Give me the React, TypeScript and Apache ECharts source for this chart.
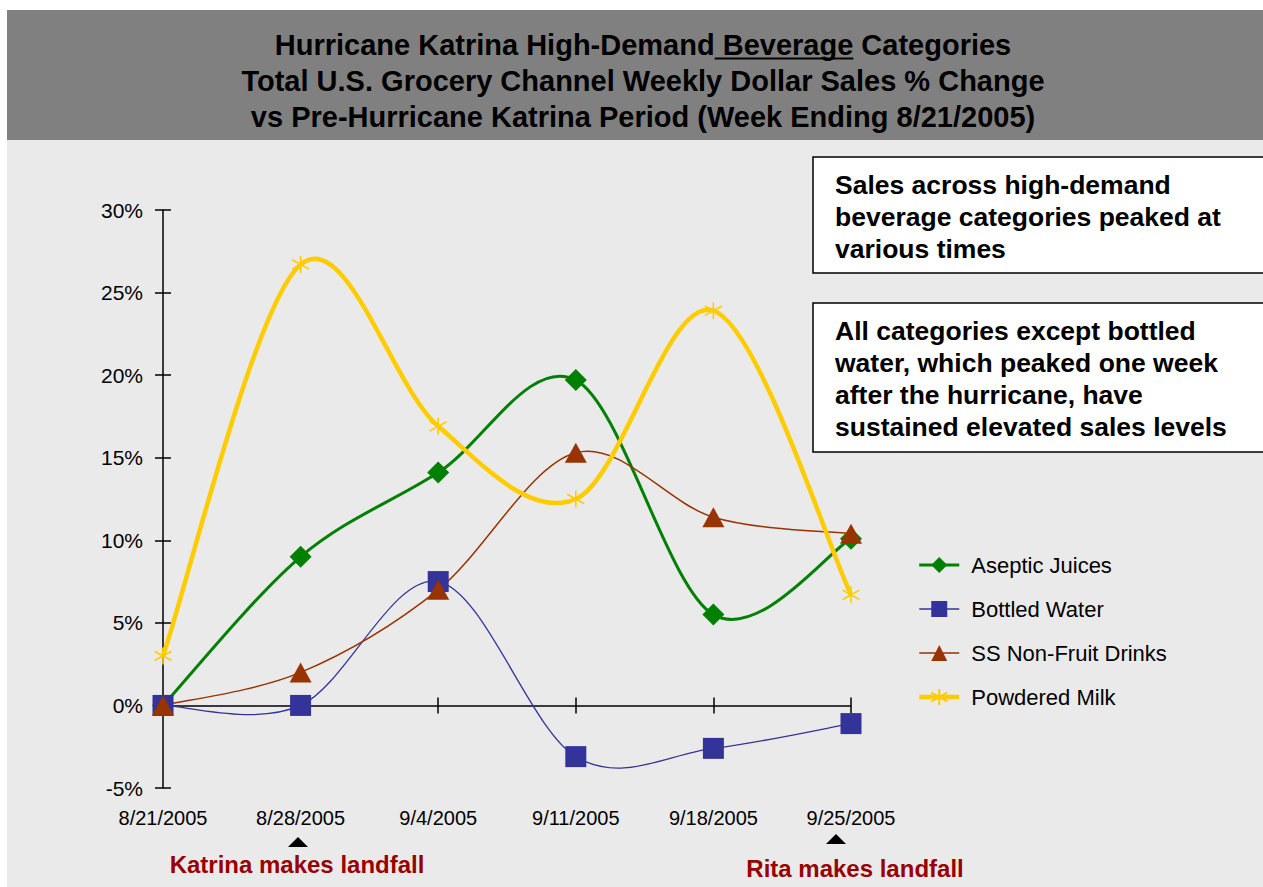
import React, { useEffect, useRef } from "react";
import * as echarts from "echarts";

// Week-ending dates on the category axis
const categories = ["8/21/2005", "8/28/2005", "9/4/2005", "9/11/2005", "9/18/2005", "9/25/2005"];

// Weekly dollar sales % change vs week ending 8/21/2005
const asepticJuices = [0, 9.0, 14.1, 19.7, 5.5, 10.1];
const bottledWater = [0, 0, 7.5, -3.1, -2.6, -1.1];
const ssNonFruitDrinks = [0, 2.0, 7.0, 15.3, 11.4, 10.4];
const powderedMilk = [3.0, 26.7, 16.9, 12.5, 23.9, 6.7];

const seriesNames = ["Aseptic Juices", "Bottled Water", "SS Non-Fruit Drinks", "Powdered Milk"];

// Y axis range in percent
const yMin = -5;
const yMax = 30;
const yStep = 5;

const titleLines = [
  "Hurricane Katrina High-Demand Beverage Categories",
  "Total U.S. Grocery Channel Weekly Dollar Sales % Change",
  "vs Pre-Hurricane Katrina Period (Week Ending 8/21/2005)",
];
const underlinedWord = " Beverage";

const noteTop = "Sales across high-demand\nbeverage categories peaked at\nvarious times";
const noteBottom =
  "All categories except bottled\nwater, which peaked one week\nafter the hurricane, have\nsustained elevated sales levels";

const katrinaLabel = "Katrina makes landfall";
const ritaLabel = "Rita makes landfall";

const FONT = '"Liberation Sans", Arial, Helvetica, sans-serif';

function measure(text: string, font: string): number {
  const ctx = document.createElement("canvas").getContext("2d");
  if (!ctx) return text.length * 14;
  ctx.font = font;
  return ctx.measureText(text).width;
}

// Catmull-Rom style smoothing (through every point, may overshoot like spreadsheet charts)
function smoothPath(pts: number[][]): string {
  if (!pts.length) return "";
  let d = `M${pts[0][0]},${pts[0][1]}`;
  for (let i = 0; i < pts.length - 1; i++) {
    const p0 = pts[Math.max(0, i - 1)];
    const p1 = pts[i];
    const p2 = pts[i + 1];
    const p3 = pts[Math.min(pts.length - 1, i + 2)];
    const c1x = p1[0] + (p2[0] - p0[0]) / 6;
    const c1y = p1[1] + (p2[1] - p0[1]) / 6;
    const c2x = p2[0] - (p3[0] - p1[0]) / 6;
    const c2y = p2[1] - (p3[1] - p1[1]) / 6;
    d += ` C${c1x},${c1y} ${c2x},${c2y} ${p2[0]},${p2[1]}`;
  }
  return d;
}

interface SeriesSpec {
  name: string;
  values: number[];
  color: string;
  width: number;
  symbol: string;
  symbolSize: number | number[];
  itemStyle?: any;
}

export default function App() {
  const ref = useRef<HTMLDivElement>(null);

  useEffect(() => {
    if (!ref.current) return;
    const chart = echarts.init(ref.current, null, { renderer: "svg" });

    const titleFont = `bold 29px ${FONT}`;
    const titleCx = 643;
    const line1W = measure(titleLines[0], titleFont);
    const idx = titleLines[0].indexOf(underlinedWord);
    const ulX0 = titleCx - line1W / 2 + measure(titleLines[0].slice(0, idx), titleFont);
    const ulX1 = ulX0 + measure(underlinedWord, titleFont);

    const asterisk = "path://M10,0L10,20M1.5,4.5L18.5,15.5M1.5,15.5L18.5,4.5";

    const specs: SeriesSpec[] = [
      { name: seriesNames[0], values: asepticJuices, color: "#008000", width: 3, symbol: "diamond", symbolSize: 22 },
      { name: seriesNames[1], values: bottledWater, color: "#333399", width: 1.3, symbol: "rect", symbolSize: 21 },
      { name: seriesNames[2], values: ssNonFruitDrinks, color: "#993300", width: 1.5, symbol: "triangle", symbolSize: [22, 20] },
      {
        name: seriesNames[3],
        values: powderedMilk,
        color: "#FFCC00",
        width: 4.5,
        symbol: asterisk,
        symbolSize: 17,
        itemStyle: { color: "#FFCC00", borderColor: "#FFCC00", borderWidth: 1.6 },
      },
    ];

    const series: any[] = [];
    specs.forEach((s) => {
      // smoothed connecting curve
      series.push({
        name: s.name + " curve",
        type: "custom",
        coordinateSystem: "cartesian2d",
        silent: true,
        data: s.values.map((v, i) => [i, v]),
        encode: { x: 0, y: 1 },
        renderItem: (params: any, api: any) => {
          if (params.dataIndex !== 0) return null;
          const pts = s.values.map((v, i) => api.coord([i, v]));
          return {
            type: "path",
            shape: { pathData: smoothPath(pts) },
            style: { fill: "none", stroke: s.color, lineWidth: s.width, lineJoin: "round" },
          };
        },
      });
      // markers
      series.push({
        name: s.name,
        type: "line",
        data: s.values,
        symbol: s.symbol,
        symbolSize: s.symbolSize,
        lineStyle: { color: s.color, width: s.width, opacity: 0 },
        itemStyle: s.itemStyle || { color: s.color },
      });
    });

    const axisBlack = { color: "#000", width: 1.5 };

    const option: any = {
      animation: false,
      backgroundColor: "#ffffff",
      textStyle: { fontFamily: FONT },
      grid: { left: 163, top: 210, width: 688, height: 578, containLabel: false },
      xAxis: [
        {
          type: "category",
          data: categories,
          boundaryGap: false,
          position: "bottom",
          axisLine: { show: false, onZero: false },
          axisTick: { show: false },
          axisLabel: { margin: 20, fontSize: 20, color: "#000", fontFamily: FONT },
          splitLine: { show: false },
        },
        {
          type: "category",
          data: categories,
          boundaryGap: false,
          position: "bottom",
          axisLine: { show: true, onZero: true, lineStyle: axisBlack },
          axisTick: { show: true, length: 8, lineStyle: axisBlack },
          axisLabel: { show: false },
          splitLine: { show: false },
        },
        {
          type: "category",
          data: categories,
          boundaryGap: false,
          position: "bottom",
          axisLine: { show: false, onZero: true },
          axisTick: { show: true, inside: true, length: 8, lineStyle: axisBlack },
          axisLabel: { show: false },
          splitLine: { show: false },
        },
      ],
      yAxis: [
        {
          type: "value",
          min: yMin,
          max: yMax,
          interval: yStep,
          position: "left",
          axisLine: { show: true, lineStyle: axisBlack },
          axisTick: { show: true, length: 8, lineStyle: axisBlack },
          axisLabel: { margin: 20, fontSize: 21, color: "#000", formatter: "{value}%", fontFamily: FONT },
          splitLine: { show: false },
        },
        {
          type: "value",
          min: yMin,
          max: yMax,
          interval: yStep,
          position: "left",
          axisLine: { show: false },
          axisTick: { show: true, inside: true, length: 8, lineStyle: axisBlack },
          axisLabel: { show: false },
          splitLine: { show: false },
        },
      ],
      legend: {
        orient: "vertical",
        left: 917,
        top: 554,
        padding: 0,
        itemWidth: 40,
        itemHeight: 20,
        itemGap: 22,
        data: specs.map((s) => ({
          name: s.name,
          lineStyle: { color: s.color, width: s.width, opacity: 1 },
        })),
        textStyle: { fontSize: 22, color: "#000", fontFamily: FONT, padding: [0, 0, 0, 7] },
      },
      series,
      graphic: [
        { type: "rect", z: -10, silent: true, shape: { x: 7, y: 10, width: 1256, height: 877 }, style: { fill: "#eaeaea" } },
        { type: "rect", z: -9, silent: true, shape: { x: 7, y: 10, width: 1256, height: 130 }, style: { fill: "#808080" } },
        ...titleLines.map((t, i) => ({
          type: "text",
          z: 10,
          x: titleCx,
          y: 45 + i * 36,
          style: { text: t, font: titleFont, fill: "#000", textAlign: "center", textVerticalAlign: "middle" },
        })),
        {
          type: "line",
          z: 10,
          shape: { x1: ulX0, y1: 58.5, x2: ulX1, y2: 58.5 },
          style: { stroke: "#000", lineWidth: 2 },
        },
        { type: "rect", z: 5, shape: { x: 813, y: 157, width: 460, height: 116 }, style: { fill: "#fff", stroke: "#000", lineWidth: 1.5 } },
        {
          type: "text",
          z: 10,
          x: 835,
          y: 169,
          style: { text: noteTop, font: `bold 26.5px ${FONT}`, lineHeight: 32, fill: "#000", textAlign: "left", textVerticalAlign: "top" },
        },
        { type: "rect", z: 5, shape: { x: 813, y: 303, width: 460, height: 149 }, style: { fill: "#fff", stroke: "#000", lineWidth: 1.5 } },
        {
          type: "text",
          z: 10,
          x: 835,
          y: 315,
          style: { text: noteBottom, font: `bold 26.5px ${FONT}`, lineHeight: 32, fill: "#000", textAlign: "left", textVerticalAlign: "top" },
        },
        { type: "polygon", z: 10, shape: { points: [[298, 837], [288, 847], [308, 847]] }, style: { fill: "#000" } },
        { type: "polygon", z: 10, shape: { points: [[836, 834], [826, 844], [846, 844]] }, style: { fill: "#000" } },
        {
          type: "text",
          z: 10,
          x: 297,
          y: 864,
          style: { text: katrinaLabel, font: `bold 24px ${FONT}`, fill: "#990000", textAlign: "center", textVerticalAlign: "middle" },
        },
        {
          type: "text",
          z: 10,
          x: 855,
          y: 868,
          style: { text: ritaLabel, font: `bold 24px ${FONT}`, fill: "#990000", textAlign: "center", textVerticalAlign: "middle" },
        },
      ],
    };

    chart.setOption(option);
    return () => chart.dispose();
  }, []);

  return <div ref={ref} style={{ position: "absolute", left: 0, top: 0, width: 1263, height: 887 }} />;
}
